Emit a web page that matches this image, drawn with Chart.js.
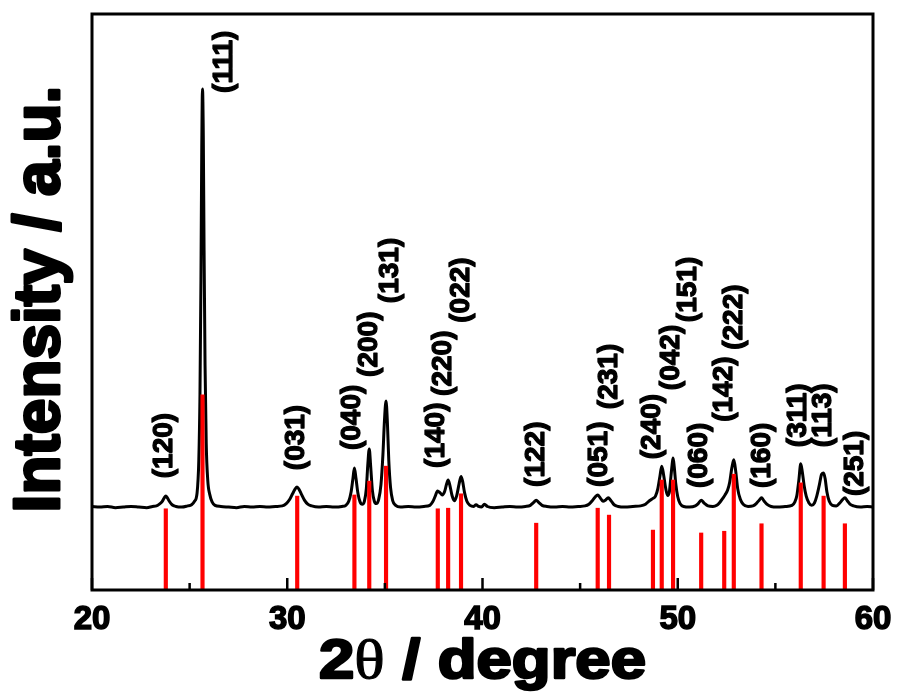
<!DOCTYPE html>
<html>
<head>
<meta charset="utf-8">
<script src="https://cdn.jsdelivr.net/npm/chart.js@4.4.1/dist/chart.umd.min.js"></script>
<style>
  html, body { margin: 0; padding: 0; background: #ffffff; }
  #wrap { width: 897px; height: 700px; position: relative; }
</style>
</head>
<body>
<div id="wrap"><canvas id="xrd" width="897" height="700"></canvas></div>
<script>
// 2θ axis range and ticks
const thetaMin = 20;
const thetaMax = 60;
const thetaMajorTicks = [20, 30, 40, 50, 60];
const thetaMinorTicks = [25, 35, 45, 55];

// measured diffraction profile: [2θ (degree), intensity (a.u.)]
const profile = [
  [20.0,145],[20.4,144],[20.8,145],[21.2,143],[21.6,144],[22.0,145],[22.4,144],[22.8,143],
  [23.1,145],[23.3,146],[23.45,149],[23.6,154],[23.7,160],[23.78,163],[23.86,160],[23.96,154],
  [24.1,148],[24.3,145],[24.6,144],[24.9,146],[25.1,148],[25.25,154],[25.38,168],[25.47,225],
  [25.53,340],[25.58,540],[25.62,760],[25.66,870],[25.70,790],[25.74,590],[25.79,390],[25.85,255],
  [25.93,190],[26.03,166],[26.15,153],[26.3,147],[26.6,145],[27.0,144],[27.4,143],[27.8,145],
  [28.2,144],[28.6,145],[29.0,144],[29.4,145],[29.75,146],[29.95,150],[30.12,157],[30.27,167],
  [30.4,175],[30.5,179],[30.6,175],[30.73,166],[30.88,156],[31.05,149],[31.25,146],[31.6,144],
  [32.0,145],[32.4,144],[32.8,145],[33.0,147],[33.15,154],[33.27,170],[33.37,195],[33.44,212],
  [33.52,194],[33.62,168],[33.73,153],[33.84,149],[33.95,154],[34.05,176],[34.13,220],[34.2,245],
  [34.27,216],[34.36,173],[34.46,154],[34.56,150],[34.68,157],[34.8,183],[34.9,235],[34.98,295],
  [35.06,328],[35.13,290],[35.2,225],[35.29,178],[35.4,155],[35.55,147],[35.8,144],[36.2,145],
  [36.6,144],[37.0,145],[37.3,147],[37.45,153],[37.58,163],[37.7,172],[37.82,169],[37.94,165],
  [38.06,171],[38.16,184],[38.24,191],[38.32,183],[38.44,164],[38.56,155],[38.68,164],[38.8,184],
  [38.9,197],[38.98,189],[39.08,169],[39.2,154],[39.36,147],[39.55,145],[39.67,148],[39.8,145],
  [39.95,144],[40.1,149],[40.25,145],[40.6,143],[41.0,144],[41.4,145],[41.8,144],[42.2,145],
  [42.45,147],[42.62,152],[42.75,156],[42.88,152],[43.05,147],[43.3,145],[43.7,144],[44.1,145],
  [44.5,144],[44.9,145],[45.25,146],[45.45,149],[45.62,155],[45.76,161],[45.9,165],[46.03,160],
  [46.17,154],[46.3,156],[46.44,160],[46.58,155],[46.74,148],[46.95,145],[47.3,144],[47.7,145],
  [48.1,146],[48.35,149],[48.55,155],[48.73,159],[48.86,163],[48.98,176],[49.09,198],[49.18,215],
  [49.27,201],[49.38,177],[49.48,164],[49.57,170],[49.65,197],[49.71,217],[49.76,229],[49.82,214],
  [49.9,184],[50.0,162],[50.12,150],[50.3,145],[50.6,144],[50.9,146],[51.05,150],[51.2,156],
  [51.35,151],[51.55,146],[51.8,145],[52.0,147],[52.15,152],[52.3,159],[52.42,165],[52.55,173],
  [52.66,187],[52.77,212],[52.87,226],[52.97,206],[53.07,176],[53.2,158],[53.35,149],[53.6,145],
  [53.85,146],[54.02,150],[54.17,156],[54.29,160],[54.41,155],[54.56,149],[54.78,145],[55.1,144],
  [55.5,145],[55.85,147],[56.0,153],[56.1,164],[56.2,190],[56.3,219],[56.38,205],[56.47,182],
  [56.58,163],[56.72,151],[56.86,147],[57.0,151],[57.12,163],[57.25,182],[57.37,201],[57.47,203],
  [57.55,193],[57.64,170],[57.76,154],[57.92,147],[58.12,146],[58.3,151],[58.44,157],[58.56,160],
  [58.68,155],[58.82,149],[59.0,146],[59.35,144],[59.7,145],[60.0,144]
];

// standard reference reflections (stick pattern)
const refTheta = [23.78, 25.66, 30.51, 33.44, 34.2, 35.06, 37.71, 38.24, 38.9, 42.75, 45.9,
                  46.48, 48.73, 49.18, 49.76, 51.2, 52.38, 52.87, 54.29, 56.3, 57.47, 58.56];
const refIntensity = [141, 339, 163, 165, 189, 215, 141, 142, 167, 116, 142,
                      130, 104, 191, 191, 99, 102, 201, 115, 186, 163, 115];

// Miller index labels, anchored in data coordinates (2θ, intensity where the text starts)
const hklText = ['(120)', '(111)', '(031)', '(040)', '(200)', '(131)', '(140)', '(220)', '(022)',
                 '(122)', '(051)', '(231)', '(240)', '(042)', '(151)', '(060)', '(142)', '(222)',
                 '(160)', '(311)', '(113)', '(251)'];
const hklTheta = [23.71, 26.81, 30.45, 33.35, 34.19, 35.31, 37.62, 37.98, 38.9,
                  42.79, 45.97, 46.48, 48.69, 49.66, 50.53, 51.1, 52.38, 52.89,
                  54.32, 56.16, 57.49, 59.08];
const hklBase = [194, 863, 208, 243, 370, 498, 212, 337, 464,
                 179, 179, 314, 227, 347, 465, 177, 292, 417,
                 177, 248, 248, 163];

const xTitle = ['2', 'θ', ' / degree'];
const yTitle = 'Intensity / a.u.';

const SANS = '"Liberation Sans", Arial, Helvetica, sans-serif';
const SERIF = '"Liberation Serif", "Times New Roman", serif';

// bold text with a thin outline of the same colour, for a heavier stroke
function heavyText(ctx, txt, x, y, w) {
  ctx.lineWidth = w;
  ctx.lineJoin = 'round';
  ctx.strokeText(txt, x, y);
  ctx.fillText(txt, x, y);
}

// frame, inward ticks, peak labels and axis titles
const decorations = {
  id: 'decorations',
  afterDatasetsDraw(chart) {
    const { ctx, chartArea: a, scales } = chart;
    const xs = scales.x;
    ctx.save();
    ctx.strokeStyle = '#000';
    ctx.lineWidth = 2.5;
    ctx.beginPath();
    thetaMajorTicks.forEach(t => {
      const px = xs.getPixelForValue(t);
      ctx.moveTo(px, a.bottom); ctx.lineTo(px, a.bottom - 12);
    });
    thetaMinorTicks.forEach(t => {
      const px = xs.getPixelForValue(t);
      ctx.moveTo(px, a.bottom); ctx.lineTo(px, a.bottom - 7);
    });
    ctx.stroke();
    ctx.lineWidth = 3;
    ctx.strokeRect(a.left, a.top, a.right - a.left, a.bottom - a.top);
    ctx.restore();
  },
  afterDraw(chart) {
    const { ctx, chartArea: a, scales } = chart;
    const xs = scales.x, ys = scales.y;
    ctx.save();
    ctx.fillStyle = '#000';
    ctx.strokeStyle = '#000';

    // Miller indices, rotated to read upward
    ctx.font = 'bold 28px ' + SANS;
    ctx.textAlign = 'left';
    ctx.textBaseline = 'alphabetic';
    hklText.forEach((txt, i) => {
      const px = xs.getPixelForValue(hklTheta[i]);
      const py = ys.getPixelForValue(hklBase[i]);
      ctx.save();
      ctx.translate(px, py);
      ctx.rotate(-Math.PI / 2);
      heavyText(ctx, txt, 0, 7.5, 1.3);
      ctx.restore();
    });

    // y title
    ctx.save();
    ctx.font = 'bold 64px ' + SANS;
    ctx.textAlign = 'center';
    ctx.textBaseline = 'alphabetic';
    ctx.translate(59, (a.top + a.bottom) / 2 - 3);
    ctx.rotate(-Math.PI / 2);
    heavyText(ctx, yTitle, 0, 0, 3);
    ctx.restore();

    // x title: "2θ / degree", widened to its printed width
    const fonts = ['bold 55px ' + SANS, '55px ' + SERIF, 'bold 55px ' + SANS];
    const strokes = [2.5, 1, 2.5];
    const widths = xTitle.map((s, i) => { ctx.font = fonts[i]; return ctx.measureText(s).width; });
    const total = widths.reduce((s, w) => s + w, 0);
    const targetWidth = 327;
    const sx = targetWidth / total;
    ctx.save();
    ctx.translate((a.left + a.right) / 2 - targetWidth / 2, 678);
    ctx.scale(sx, 1);
    ctx.textAlign = 'left';
    let cx = 0;
    xTitle.forEach((s, i) => {
      ctx.font = fonts[i];
      heavyText(ctx, s, cx, 0, strokes[i]);
      cx += widths[i];
    });
    ctx.restore();

    ctx.restore();
  }
};

new Chart(document.getElementById('xrd'), {
  type: 'bar',
  data: {
    datasets: [
      {
        type: 'bar',
        label: 'reference',
        data: refTheta.map((t, i) => ({ x: t, y: refIntensity[i] })),
        backgroundColor: '#ff0000',
        borderWidth: 0,
        barThickness: 3.5,
        grouped: false,
        order: 0
      },
      {
        type: 'line',
        label: 'sample',
        data: profile.map(p => ({ x: p[0], y: p[1] })),
        borderColor: '#000000',
        borderWidth: 3,
        pointRadius: 0,
        fill: false,
        cubicInterpolationMode: 'monotone',
        order: 1
      }
    ]
  },
  options: {
    responsive: false,
    animation: false,
    events: [],
    layout: { padding: { left: 92, right: 24, top: 14, bottom: 0 } },
    plugins: { legend: { display: false }, tooltip: { enabled: false }, title: { display: false } },
    scales: {
      x: {
        type: 'linear',
        min: thetaMin,
        max: thetaMax,
        offset: false,
        grid: { display: false, drawTicks: false, offset: false },
        border: { display: false },
        ticks: {
          stepSize: 10,
          color: '#000',
          padding: 10,
          maxRotation: 0,
          textStrokeColor: '#000',
          textStrokeWidth: 1.5,
          font: { family: SANS, weight: 'bold', size: 33 },
          callback: v => thetaMajorTicks.includes(v) ? String(v) : ''
        },
        afterFit: s => { s.height = 110; s.paddingLeft = 0; s.paddingRight = 0; }
      },
      y: {
        display: false,
        min: 0,
        max: 1000
      }
    }
  },
  plugins: [decorations]
});
</script>
</body>
</html>
